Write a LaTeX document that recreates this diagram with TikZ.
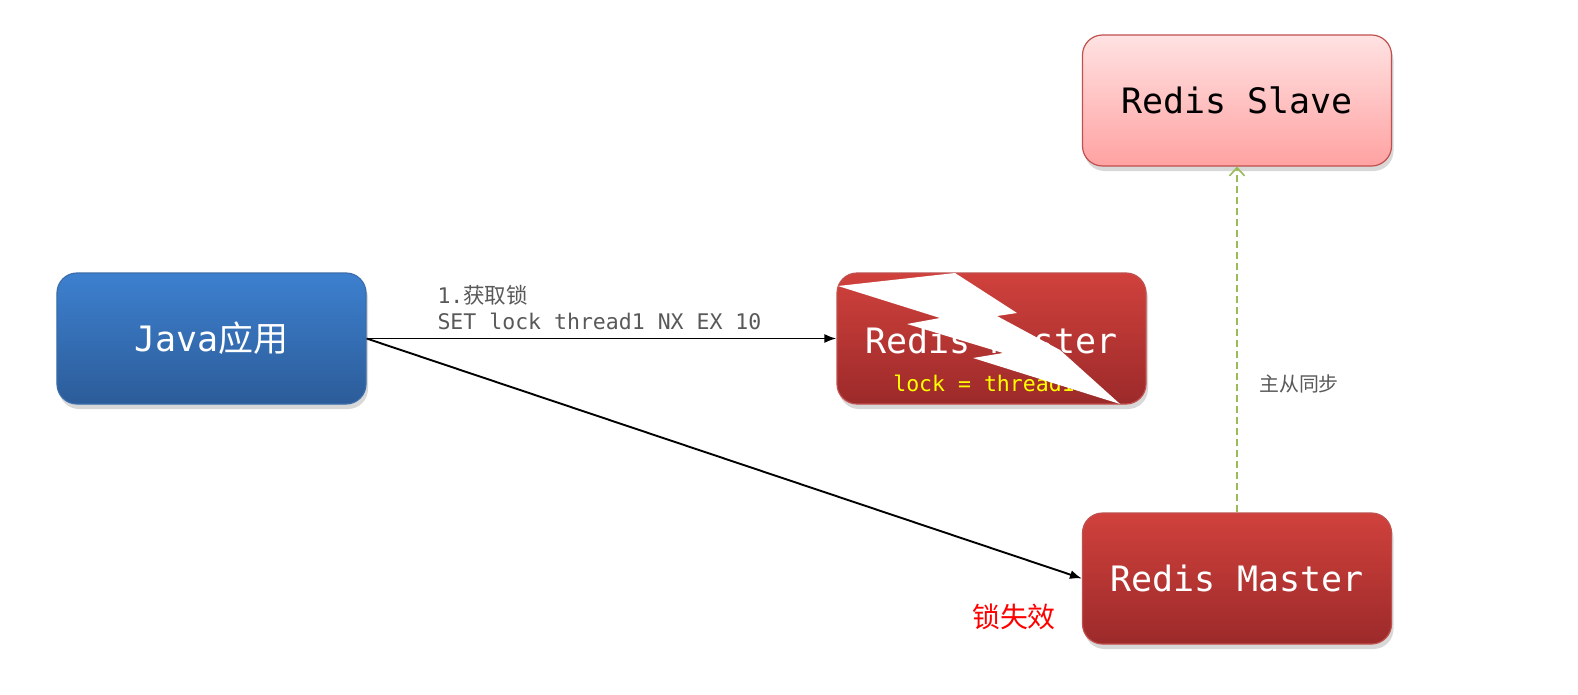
\documentclass[tikz,border=0pt]{standalone}
\usepackage{fontspec}
\setmonofont{DejaVu Sans Mono}
\newfontfamily\cjk{Noto Sans CJK SC}
\usetikzlibrary{arrows.meta,shadows}
\definecolor{bluetop}{HTML}{3D80CF}
\definecolor{bluebot}{HTML}{2C5C99}
\definecolor{blueline}{HTML}{3A6DAA}
\definecolor{redtop}{HTML}{D0413C}
\definecolor{redbot}{HTML}{9C2A2A}
\definecolor{redline}{HTML}{C0504D}
\definecolor{pinktop}{HTML}{FFE2E2}
\definecolor{pinkbot}{HTML}{FFA2A2}
\definecolor{syncgreen}{HTML}{9BBB59}
\definecolor{labelgray}{HTML}{595959}
\definecolor{lockyellow}{HTML}{FFFF00}
\begin{document}
\begin{tikzpicture}[x=1bp,y=-1bp,
  box/.style={rounded corners=20bp,minimum width=309bp,minimum height=131bp,line width=1.2pt,
    drop shadow={opacity=0.3,shadow xshift=2bp,shadow yshift=-5bp},inner sep=0pt},
  bluebox/.style={box,draw=blueline,top color=bluetop,bottom color=bluebot},
  redbox/.style={box,draw=redline,top color=redtop,bottom color=redbot},
  pinkbox/.style={box,draw=redline,top color=pinktop,bottom color=pinkbot},
  bigtxt/.style={font=\fontsize{35.1}{40}\selectfont\ttfamily},
  smalltxt/.style={font=\fontsize{21.6}{25}\selectfont\ttfamily},
  arr/.style={line width=1.9bp,-{Latex[length=12bp,width=9bp]}},
  sync/.style={line width=1.6bp,draw=syncgreen,dash pattern=on 7bp off 4bp,-{Straight Barb[length=8bp,width=15bp]}}
]
\useasboundingbox (0,0) rectangle (1578,695);
\fill[white] (0,0) rectangle (1578,695);

\node[bluebox,text=white,bigtxt] (java) at (211.5,338.5) {Java{\cjk 应用}};
\node[redbox] (m1) at (991.5,338.5) {};
\node[bigtxt,text=white] (m1t) at (991.5,340) {Redis Master};
\node[smalltxt,text=lockyellow] (m1l) at (984,383) {lock = thread1};
\node[pinkbox,bigtxt,text=black] (slave) at (1237,100.5) {Redis Slave};
\node[redbox,bigtxt,text=white] (m2) at (1237,578.5) {Redis Master};

% lightning bolt
\fill[white] (838,286) -- (955,273) -- (1017,313) -- (997,316) -- (1060,350) -- (1120,404)
  -- (973,358) -- (1003,353) -- (907,324) -- (940,318) -- cycle;

\draw[arr] (java.east) -- (m1.west);
\draw[arr] (java.east) -- (m2.west);
\draw[sync] (m2.north) -- (slave.south);

\node[smalltxt,text=labelgray,anchor=west,align=left] (lbl1) at (434,295) {1.{\cjk 获取锁}};
\node[smalltxt,text=labelgray,anchor=west] (lbl2) at (434,321) {SET lock thread1 NX EX 10};
\node[font=\fontsize{20}{24}\selectfont\cjk,text=labelgray] (syncl) at (1299,384) {主从同步};
\node[font=\fontsize{28}{32}\selectfont\cjk,text=red] (fail) at (1014,617) {锁失效};
\end{tikzpicture}
\end{document}
